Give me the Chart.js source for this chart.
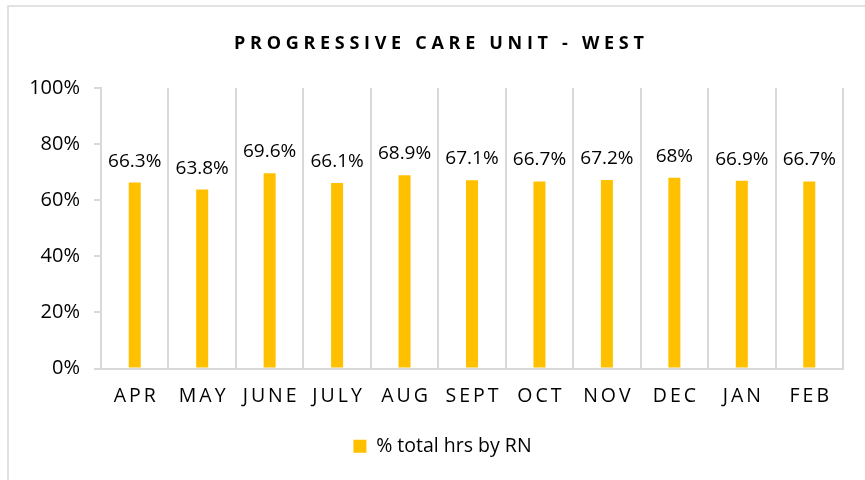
<!DOCTYPE html>
<html>
<head>
<meta charset="utf-8">
<script src="https://cdn.jsdelivr.net/npm/chart.js@4"></script>
<style>
  html, body { margin: 0; padding: 0; background: #fff; }
  #wrap { position: relative; width: 865px; height: 480px; }
</style>
</head>
<body>
<div id="wrap"><canvas id="chart" width="865" height="480"></canvas></div>
<script>
const chartTitle = 'PROGRESSIVE CARE UNIT - WEST';
const months = ['APR', 'MAY', 'JUNE', 'JULY', 'AUG', 'SEPT', 'OCT', 'NOV', 'DEC', 'JAN', 'FEB'];
const rnShare = [66.3, 63.8, 69.6, 66.1, 68.9, 67.1, 66.7, 67.2, 68, 66.9, 66.7];
const seriesName = '% total hrs by RN';

const FONT = "'Open Sans', 'Noto Sans', sans-serif";
const GRID = '#d9d9d9';
const BAR = '#ffc000';

// title, month labels (letter spaced), value labels and outer frame
const decor = {
    id: 'decor',
    afterLayout(chart) {
        // the legend sits centred on the outer frame, not the canvas
        chart.legend.left += 11;
        chart.legend.right += 11;
    },
    beforeDraw(chart) {
        const ctx = chart.ctx;
        ctx.save();
        ctx.fillStyle = '#fff';
        ctx.fillRect(0, 0, chart.width, chart.height);
        ctx.strokeStyle = GRID;
        ctx.lineWidth = 1.5;
        ctx.beginPath();
        ctx.moveTo(8, chart.height);
        ctx.lineTo(8, 6);
        ctx.lineTo(chart.width, 6);
        ctx.stroke();
        ctx.restore();
    },
    afterDatasetsDraw(chart) {
        const ctx = chart.ctx;
        const meta = chart.getDatasetMeta(0);
        ctx.save();
        ctx.fillStyle = '#000';
        ctx.font = '19px ' + FONT;
        ctx.textAlign = 'center';
        ctx.textBaseline = 'alphabetic';
        meta.data.forEach((bar, i) => {
            ctx.fillText(rnShare[i] + '%', bar.x, bar.y - 16);
        });
        ctx.restore();
    },
    afterDraw(chart) {
        const ctx = chart.ctx;
        const x = chart.scales.x;
        ctx.save();
        ctx.fillStyle = '#000';
        ctx.textAlign = 'center';
        ctx.textBaseline = 'alphabetic';

        ctx.letterSpacing = '4.7px';
        ctx.font = 'bold 18px ' + FONT;
        ctx.fillText(chartTitle, 439 + 2.35, 49);

        ctx.letterSpacing = '3px';
        ctx.font = '19.5px ' + FONT;
        months.forEach((m, i) => {
            ctx.fillText(m, x.getPixelForTick(i) + 1.5, 402);
        });
        ctx.restore();
    }
};

new Chart(document.getElementById('chart'), {
    type: 'bar',
    data: {
        labels: months,
        datasets: [{
            label: seriesName,
            data: rnShare,
            backgroundColor: BAR,
            borderWidth: 0,
            categoryPercentage: 1,
            barPercentage: 0.178
        }]
    },
    options: {
        responsive: false,
        animation: false,
        layout: {
            padding: { top: 88, left: 20, right: 22, bottom: 14 }
        },
        plugins: {
            title: { display: false },
            tooltip: { enabled: false },
            legend: {
                position: 'bottom',
                labels: {
                    boxWidth: 13,
                    boxHeight: 13,
                    color: '#000',
                    padding: 10,
                    font: { family: FONT, size: 19.5 }
                }
            }
        },
        scales: {
            x: {
                grid: {
                    offset: true,
                    color: GRID,
                    lineWidth: 2,
                    drawTicks: false
                },
                border: { display: true, color: GRID, width: 2 },
                ticks: { display: false },
                afterFit(scale) { scale.height = 58; }
            },
            y: {
                min: 0,
                max: 100,
                ticks: {
                    stepSize: 20,
                    padding: 14,
                    color: '#000',
                    font: { family: FONT, size: 20 },
                    callback: v => v + '%'
                },
                grid: {
                    drawOnChartArea: false,
                    drawTicks: true,
                    tickLength: 7,
                    color: GRID,
                    lineWidth: 2
                },
                border: { display: true, color: GRID, width: 2 },
                afterFit(scale) { scale.width = 81; }
            }
        }
    },
    plugins: [decor]
});
</script>
</body>
</html>
